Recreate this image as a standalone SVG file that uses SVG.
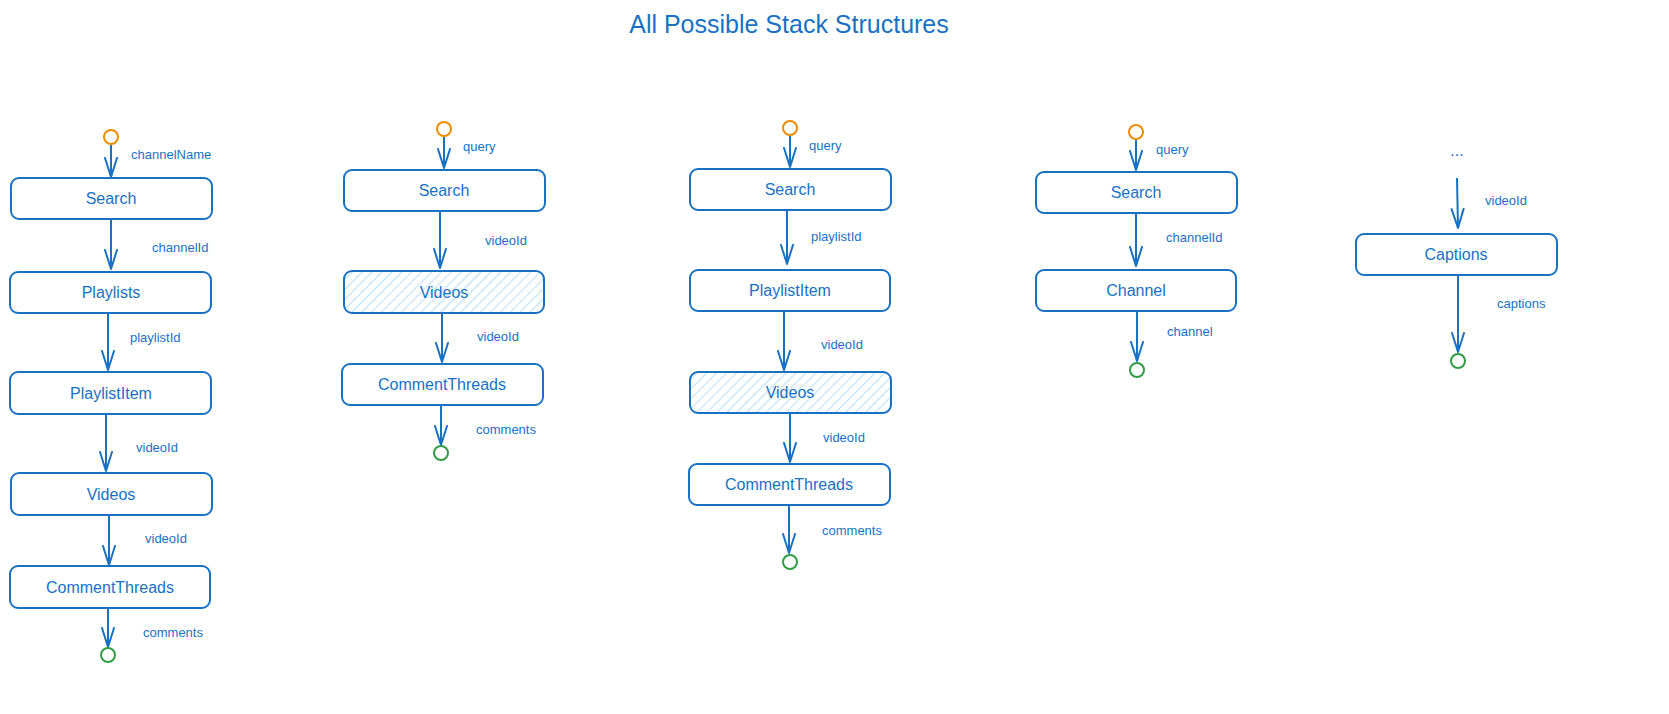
<svg xmlns="http://www.w3.org/2000/svg" width="1669" height="714" viewBox="0 0 1669 714">
<style>
.bg{fill:#ffffff}
.box{fill:#ffffff;stroke:#1971c2;stroke-width:2}
.hatch{fill:url(#hatch);stroke:#1971c2;stroke-width:2}
.t{font-family:"Liberation Sans",Arial,sans-serif;font-size:16px;fill:#1971c2;text-anchor:middle;dominant-baseline:central}
.lbl{font-family:"Liberation Sans",Arial,sans-serif;font-size:13px;fill:#1971c2}
.title{font-family:"Liberation Sans",Arial,sans-serif;font-size:25px;fill:#1971c2;text-anchor:middle}
.con{stroke:#1971c2;stroke-width:2;fill:none;marker-end:url(#arr)}
.start{fill:none;stroke:#f08c00;stroke-width:2}
.end{fill:none;stroke:#2f9e44;stroke-width:2}
</style>
<defs>
<marker id="arr" markerUnits="userSpaceOnUse" markerWidth="22" markerHeight="16" refX="20" refY="8" orient="auto" viewBox="0 0 22 16">
<path d="M1,2 L20,8 L1,14" fill="none" stroke="#1971c2" stroke-width="2" stroke-linecap="round" stroke-linejoin="round"/>
</marker>
<pattern id="hatch" patternUnits="userSpaceOnUse" width="7" height="7" patternTransform="rotate(45)">
<rect width="7" height="7" fill="#ffffff"/>
<line x1="0" y1="0" x2="0" y2="7" stroke="#a5d8ff" stroke-width="1.6"/>
</pattern>
</defs>
<rect class="bg" width="1669" height="714"/>
<text class="title" x="789" y="33">All Possible Stack Structures</text>

<g id="connectors">
<line class="con" x1="111" y1="145" x2="111" y2="177"/>
<line class="con" x1="111" y1="219" x2="111" y2="269"/>
<line class="con" x1="108" y1="313" x2="108" y2="370"/>
<line class="con" x1="106" y1="414" x2="106" y2="471"/>
<line class="con" x1="109" y1="515" x2="109" y2="565"/>
<line class="con" x1="108" y1="608" x2="108" y2="647"/>

<line class="con" x1="444" y1="137" x2="444" y2="168"/>
<line class="con" x1="440" y1="211" x2="440" y2="268"/>
<line class="con" x1="442" y1="313" x2="442" y2="362"/>
<line class="con" x1="441" y1="405" x2="441" y2="445"/>

<line class="con" x1="790" y1="136" x2="790" y2="167"/>
<line class="con" x1="787" y1="210" x2="787" y2="264"/>
<line class="con" x1="784" y1="311" x2="784" y2="370"/>
<line class="con" x1="790" y1="413" x2="790" y2="462"/>
<line class="con" x1="789" y1="505" x2="789" y2="553"/>

<line class="con" x1="1136" y1="140" x2="1136" y2="170"/>
<line class="con" x1="1136" y1="213" x2="1136" y2="266"/>
<line class="con" x1="1137" y1="311" x2="1137" y2="361"/>

<line class="con" x1="1457" y1="178" x2="1458" y2="228"/>
<line class="con" x1="1458" y1="275" x2="1458" y2="352"/>
</g>

<g id="labels">
<text class="lbl" x="131" y="159">channelName</text>
<text class="lbl" x="152" y="252">channelId</text>
<text class="lbl" x="130" y="342">playlistId</text>
<text class="lbl" x="136" y="452">videoId</text>
<text class="lbl" x="145" y="543">videoId</text>
<text class="lbl" x="143" y="637">comments</text>

<text class="lbl" x="463" y="151">query</text>
<text class="lbl" x="485" y="245">videoId</text>
<text class="lbl" x="477" y="341">videoId</text>
<text class="lbl" x="476" y="434">comments</text>

<text class="lbl" x="809" y="150">query</text>
<text class="lbl" x="811" y="241">playlistId</text>
<text class="lbl" x="821" y="349">videoId</text>
<text class="lbl" x="823" y="442">videoId</text>
<text class="lbl" x="822" y="535">comments</text>

<text class="lbl" x="1156" y="154">query</text>
<text class="lbl" x="1166" y="242">channelId</text>
<text class="lbl" x="1167" y="336">channel</text>

<text class="lbl" x="1485" y="205">videoId</text>
<text class="lbl" x="1497" y="308">captions</text>
</g>

<g id="col1-start"><circle class="start" cx="111" cy="137" r="7"/></g>
<g id="col1-search"><rect class="box" x="11" y="178" width="201" height="41" rx="8"/><text class="t" x="111" y="198">Search</text></g>
<g id="col1-playlists"><rect class="box" x="10" y="272" width="201" height="41" rx="8"/><text class="t" x="111" y="292">Playlists</text></g>
<g id="col1-playlistitem"><rect class="box" x="10" y="372" width="201" height="42" rx="8"/><text class="t" x="111" y="393">PlaylistItem</text></g>
<g id="col1-videos"><rect class="box" x="11" y="473" width="201" height="42" rx="8"/><text class="t" x="111" y="494">Videos</text></g>
<g id="col1-commentthreads"><rect class="box" x="10" y="566" width="200" height="42" rx="8"/><text class="t" x="110" y="587">CommentThreads</text></g>
<g id="col1-end"><circle class="end" cx="108" cy="655" r="7"/></g>

<g id="col2-start"><circle class="start" cx="444" cy="129" r="7"/></g>
<g id="col2-search"><rect class="box" x="344" y="170" width="201" height="41" rx="8"/><text class="t" x="444" y="190">Search</text></g>
<g id="col2-videos"><rect class="hatch" x="344" y="271" width="200" height="42" rx="8"/><text class="t" x="444" y="292">Videos</text></g>
<g id="col2-commentthreads"><rect class="box" x="342" y="364" width="201" height="41" rx="8"/><text class="t" x="442" y="384">CommentThreads</text></g>
<g id="col2-end"><circle class="end" cx="441" cy="453" r="7"/></g>

<g id="col3-start"><circle class="start" cx="790" cy="128" r="7"/></g>
<g id="col3-search"><rect class="box" x="690" y="169" width="201" height="41" rx="8"/><text class="t" x="790" y="189">Search</text></g>
<g id="col3-playlistitem"><rect class="box" x="690" y="270" width="200" height="41" rx="8"/><text class="t" x="790" y="290">PlaylistItem</text></g>
<g id="col3-videos"><rect class="hatch" x="690" y="372" width="201" height="41" rx="8"/><text class="t" x="790" y="392">Videos</text></g>
<g id="col3-commentthreads"><rect class="box" x="689" y="464" width="201" height="41" rx="8"/><text class="t" x="789" y="484">CommentThreads</text></g>
<g id="col3-end"><circle class="end" cx="790" cy="562" r="7"/></g>

<g id="col4-start"><circle class="start" cx="1136" cy="132" r="7"/></g>
<g id="col4-search"><rect class="box" x="1036" y="172" width="201" height="41" rx="8"/><text class="t" x="1136" y="192">Search</text></g>
<g id="col4-channel"><rect class="box" x="1036" y="270" width="200" height="41" rx="8"/><text class="t" x="1136" y="290">Channel</text></g>
<g id="col4-end"><circle class="end" cx="1137" cy="370" r="7"/></g>

<g id="col5-ellipsis"><text class="t" x="1457" y="150">...</text></g>
<g id="col5-captions"><rect class="box" x="1356" y="234" width="201" height="41" rx="8"/><text class="t" x="1456" y="254">Captions</text></g>
<g id="col5-end"><circle class="end" cx="1458" cy="361" r="7"/></g>
</svg>
